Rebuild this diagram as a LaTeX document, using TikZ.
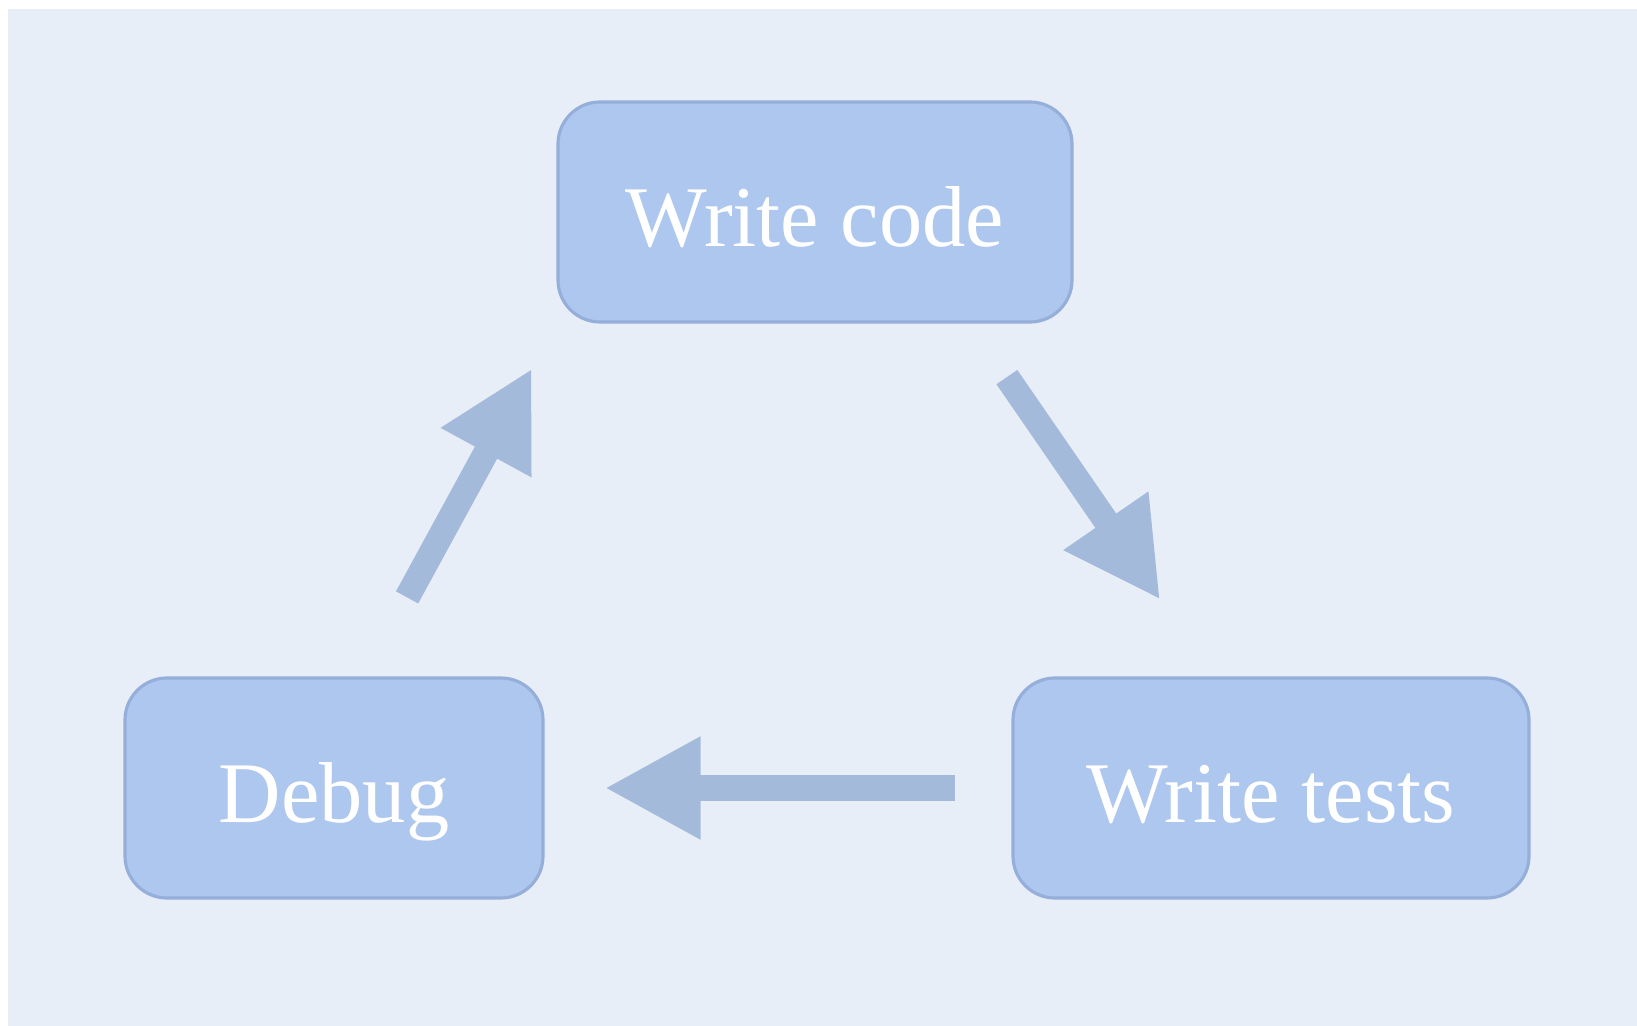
\documentclass[tikz,border=0pt]{standalone}
\usepackage{fontspec}
\setmainfont{Liberation Serif}
\usetikzlibrary{arrows.meta, positioning, calc}

\definecolor{paper}{HTML}{E7EEF7}
\definecolor{boxfill}{HTML}{AEC7EE}
\definecolor{boxline}{HTML}{96AFDA}
\definecolor{flow}{HTML}{A4BADA}

\tikzset{
    stage/.style={rectangle, rounded corners=4.2mm, fill=boxfill, draw=boxline,
        line width=0.9pt, minimum height=22mm, text=white,
        text height=9mm, text depth=2mm,
        font=\fontsize{24.6}{29}\selectfont},
    flowarrow/.style={draw=flow, line width=7.2pt,
        -{Triangle[length=9.6mm, width=9.6mm]}}
}

\begin{document}
\begin{tikzpicture}
        % Page with a thin white strip along the top and left
        \fill[white] (0, 0) rectangle (16.37, -10.26);
        \fill[paper] (0.08, -0.09) rectangle (16.37, -10.26);
        \useasboundingbox (0, 0) rectangle (16.37, -10.26);

        % The three stages of the cycle
        \node[stage, minimum width=51.4mm] (code) at (8.15, -2.12) {Write code};
        \node[stage, minimum width=51.6mm] (tests) at (12.71, -7.88) {Write tests};
        \node[stage, minimum width=41.8mm] (debug) at (3.34, -7.88) {Debug};

        % Arrows going round the cycle
        \draw[flowarrow, shorten <=6.5mm, shorten >=9.3mm]
            ([xshift=15.5mm]code.south) -- ([xshift=-5.8mm]tests.north);
        \draw[flowarrow, shorten <=5.6mm, shorten >=6mm] (tests.west) -- (debug.east);
        \draw[flowarrow, shorten <=9mm, shorten >=5.1mm]
            ([xshift=3mm]debug.north) -- (code.south west);

    \end{tikzpicture}
\end{document}
